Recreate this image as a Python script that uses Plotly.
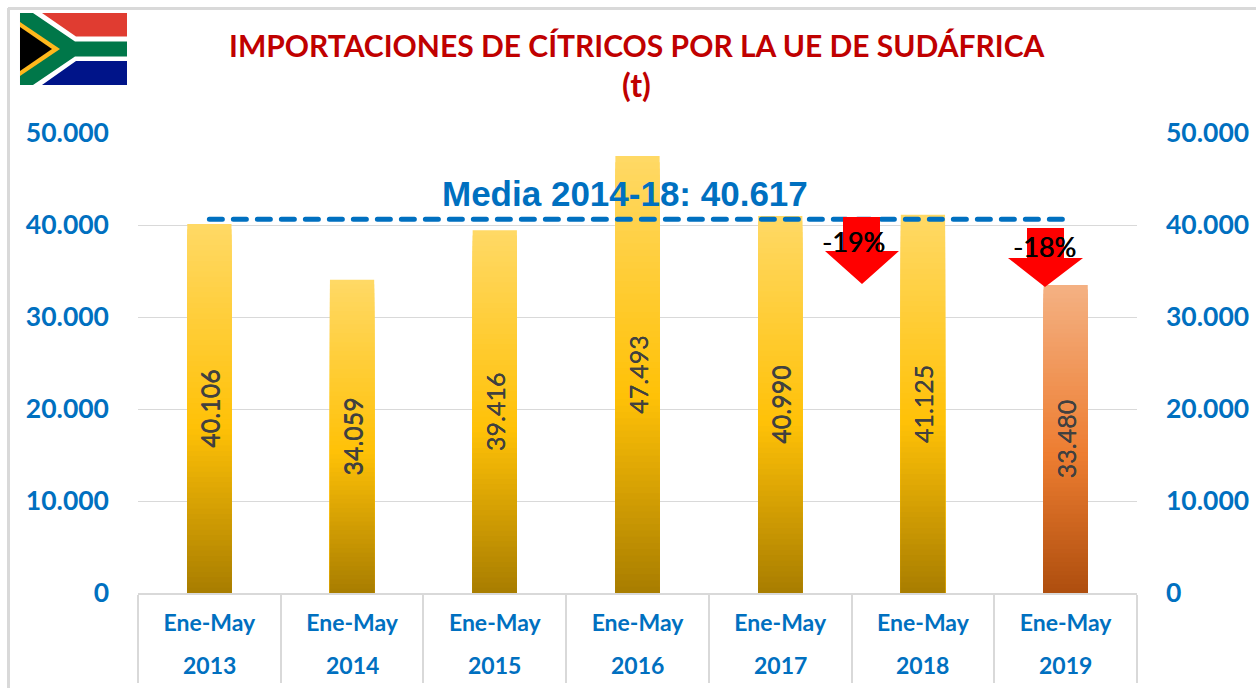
import plotly.graph_objects as go

W, H = 1256, 688
L, R, T, B = 138, 1137, 133, 593

years = ["2013", "2014", "2015", "2016", "2017", "2018", "2019"]
periods = ["Ene-May"] * 7
categories = [f"{p} {y}" for p, y in zip(periods, years)]
values = [40106, 34059, 39416, 47493, 40990, 41125, 33480]
mean_values = [40617] * 7
tick_vals = [0, 10000, 20000, 30000, 40000, 50000]
title_text = "IMPORTACIONES DE CÍTRICOS POR LA UE DE SUDÁFRICA"
mean_label = "Media 2014-18: 40.617"
changes = ["-19%", "-18%"]

GOLD = [(0.0, (255, 217, 102)), (0.55, (255, 193, 7)), (1.0, (168, 125, 0))]
ORANGE = [(0.0, (244, 177, 131)), (0.55, (237, 125, 49)), (1.0, (174, 78, 14))]
N = 70

def ramp(stops, t):
    for (a, ca), (b, cb) in zip(stops, stops[1:]):
        if t <= b:
            f = (t - a) / (b - a)
            return "rgb(%d,%d,%d)" % tuple(round(p + (q - p) * f) for p, q in zip(ca, cb))
    return "rgb(%d,%d,%d)" % stops[-1][1]

fig = go.Figure()
# gradient fill: nested bars, each shorter one painted over the taller one
for k in range(N):
    t = (k + 0.5) / N
    fig.add_bar(
        x=categories, y=[v * (1 - k / N) for v in values],
        width=0.31, showlegend=False, hoverinfo="skip",
        marker=dict(color=[ramp(ORANGE if i == 6 else GOLD, t) for i in range(7)], line_width=0),
    )
# the real bars, carrying the value labels
fig.add_bar(
    x=categories, y=values, width=0.31, showlegend=False,
    marker=dict(color="rgba(0,0,0,0)", line_width=0),
    text=values, texttemplate="%{y:,d}", textposition="inside", insidetextanchor="middle",
    textangle=-90,
    insidetextfont=dict(family="Lato", size=25, color="#404040", shadow="0 0.5px 0 #404040"),
)
fig.add_scatter(
    x=categories, y=mean_values, mode="lines", showlegend=False,
    line=dict(color="#0070C0", width=5, dash="13px,11px"),
)
fig.add_scatter(
    x=categories, y=values, yaxis="y2", mode="markers", marker_opacity=0, showlegend=False, hoverinfo="skip",
)

def frame(v): return (v - L) / (R - L)
def fy(v): return (B - v) / (B - T)

def poly(points, color):
    d = "M" + " L".join(f"{frame(a):.5f},{fy(b):.5f}" for a, b in points) + " Z"
    return dict(type="path", xref="paper", yref="paper", path=d, fillcolor=color, line_width=0, layer="above")

shapes = [
    # chart frame
    dict(type="line", xref="paper", yref="paper", x0=frame(8.5), x1=frame(8.5), y0=fy(8), y1=fy(688),
         line=dict(color="#D9D9D9", width=3)),
    dict(type="line", xref="paper", yref="paper", x0=frame(8), x1=frame(1256), y0=fy(8.5), y1=fy(8.5),
         line=dict(color="#D9D9D9", width=3)),
    # flag
    poly([(20, 13), (127, 13), (127, 49), (20, 49)], "#E03C31"),
    poly([(20, 49), (127, 49), (127, 85), (20, 85)], "#001489"),
    poly([(20, 13), (42, 13), (76, 36.5), (127, 36.5), (127, 61), (76, 61), (42, 85), (20, 85)], "#FFFFFF"),
    poly([(20, 13), (33, 13), (75, 41.5), (127, 41.5), (127, 56.5), (75, 56.5), (33, 85), (20, 85)], "#007749"),
    poly([(20, 22), (60, 49), (20, 76)], "#FFB81C"),
    poly([(20, 27), (52, 49), (20, 71)], "#000000"),
    # change arrows
    poly([(843, 217), (880, 217), (880, 251), (899, 251), (862, 284), (825, 251), (843, 251)], "#FF0000"),
    poly([(1027, 228), (1064, 228), (1064, 258), (1083, 258), (1045, 287), (1008, 258), (1027, 258)], "#FF0000"),
]

def note(text, cx, cy, size, color, family="Lato", bold=True, shadow=None):
    font = dict(family=family, size=size, color=color)
    if shadow:
        font["shadow"] = shadow
    return dict(text=f"<b>{text}</b>" if bold else text, xref="paper", yref="paper", x=frame(cx), y=fy(cy),
                xanchor="center", yanchor="middle", showarrow=False, font=font)

annotations = [
    note(title_text, 637, 45, 30, "#C00000"),
    note("(t)", 636, 84, 32, "#C00000"),
    note(mean_label, 625, 193, 35, "#0070C0", family="Liberation Sans"),
    note(changes[0], 853, 241, 27, "#000000", bold=False, shadow="0.6px 0 0 #000000"),
    note(changes[1], 1044, 246, 27, "#000000", bold=False, shadow="0.6px 0 0 #000000"),
]
for c, y in zip(categories, years):
    annotations.append(dict(
        text=f"<b>{y}</b>", xref="x", yref="paper", x=c, y=fy(665), xanchor="center", yanchor="middle",
        showarrow=False, font=dict(family="Lato", size=23, color="#0070C0"),
    ))

tickfont = dict(family="Lato", size=26.5, color="#0070C0", weight="bold")
fig.update_layout(
    width=W, height=H, margin=dict(l=L, r=W - R, t=T, b=H - B, autoexpand=False),
    paper_bgcolor="#FFFFFF", plot_bgcolor="#FFFFFF",
    barmode="overlay", separators=",.", showlegend=False,
    shapes=shapes, annotations=annotations,
    xaxis=dict(
        type="category", dtick=1, tickangle=0,
        labelalias=dict(zip(categories, periods)),
        tickson="boundaries", ticks="outside", ticklen=88, tickcolor="#D9D9D9", tickwidth=1.5,
        ticklabelstandoff=9, showgrid=False,
        showline=True, linecolor="#D9D9D9", linewidth=1.5,
        tickfont=dict(family="Lato", size=23, color="#0070C0", weight="bold"),
    ),
    yaxis=dict(
        range=[0, 50000], tickvals=tick_vals, tickformat=",d", showgrid=True,
        gridcolor="#D9D9D9", gridwidth=1, zeroline=False, showline=False, tickfont=tickfont, ticklabelstandoff=28,
    ),
    yaxis2=dict(
        range=[0, 50000], tickvals=tick_vals, tickformat=",d", overlaying="y", side="right", anchor="x",
        showgrid=False, zeroline=False, showline=False, tickfont=tickfont, ticklabelstandoff=28,
    ),
)

fig.write_html(
    "out.html", config={"displayModeBar": False},
    post_script="document.body.style.margin='0';"
                "document.querySelectorAll('.js-line').forEach(function(e){e.style.strokeLinecap='round';});",
)
